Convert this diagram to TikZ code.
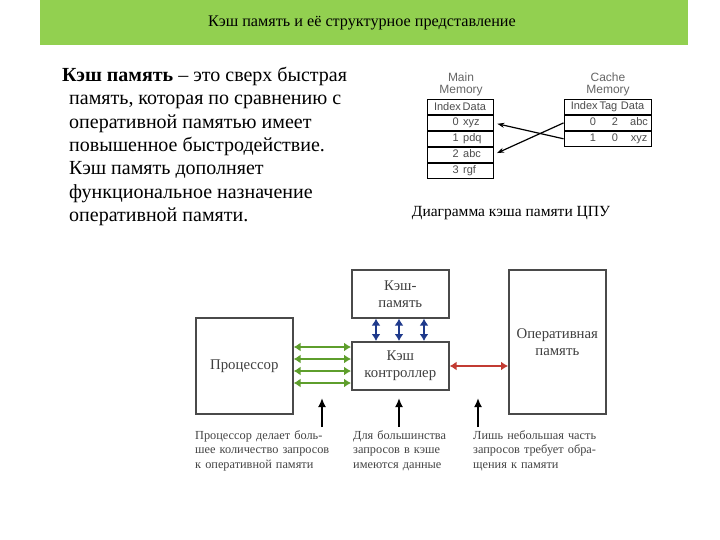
\documentclass[tikz,border=0pt]{standalone}
\usepackage{fontspec}
\setmainfont{Liberation Serif}
\newfontfamily\tabfont{Liberation Sans}
\usetikzlibrary{arrows.meta}
\definecolor{hdrgreen}{HTML}{92D050}
\definecolor{arrgreen}{HTML}{5E9E2C}
\definecolor{arrblue}{HTML}{1F3A8C}
\definecolor{arrred}{HTML}{C23B32}
\definecolor{boxline}{HTML}{4A4A4A}
\definecolor{captxt}{HTML}{444444}
\newcommand\jline[1]{\makebox[\linewidth][s]{#1}}
\tikzset{
  x=1pt,y=-1pt,
  cell/.style={draw=black,line width=0.9pt,minimum height=15pt,inner sep=0pt,font=\tabfont\fontsize{11}{12}\selectfont,text=black!70},
  tabtitle/.style={font=\tabfont\fontsize{12}{12}\selectfont,text=black!60,align=center,inner sep=0pt},
  celltxt/.style={font=\tabfont\fontsize{11}{12}\selectfont,text=black!70,inner sep=0pt,text height=8pt,text depth=2pt},
  blk/.style={draw=boxline,line width=1.6pt,inner sep=0pt,font=\fontsize{14.8}{17}\selectfont,align=center,text=black!75},
  dbl/.style={{Latex[length=7pt,width=9pt]}-{Latex[length=7pt,width=9pt]},line width=2.2pt},
  uparr/.style={-{Latex[length=9pt,width=8pt]},line width=2pt,black},
  note/.style={font=\fontsize{12.3}{14.6}\selectfont,text=captxt,align=left,anchor=north west,inner sep=0pt},
}
\begin{document}
\begin{tikzpicture}
\useasboundingbox (0,0) rectangle (720,540);
\fill[white] (0,0) rectangle (720,540);
% header
\fill[hdrgreen] (40,0) rectangle (688,45);
\node[font=\fontsize{16.2}{18}\selectfont] (title) at (362,23) {Кэш память и её структурное представление};
% paragraph
\node[anchor=north west,inner sep=0pt,align=left,font=\fontsize{20}{23.3}\selectfont] (para) at (62,67)
 {\textbf{Кэш память} – это сверх быстрая\\
 \hspace*{7pt}память, которая по сравнению с\\
 \hspace*{7pt}оперативной памятью имеет\\
 \hspace*{7pt}повышенное быстродействие.\\
 \hspace*{7pt}Кэш память дополняет\\
 \hspace*{7pt}функциональное назначение\\
 \hspace*{7pt}оперативной памяти.};
% main memory table
\node[tabtitle] (mmt) at (461,84) {Main\\Memory};
\node[cell,minimum width=66pt] (mh) at (460,107) {Index\,Data};
\node[cell,minimum width=66pt,anchor=north] (m0) at (mh.south) {};
\node[cell,minimum width=66pt,anchor=north] (m1) at (m0.south) {};
\node[cell,minimum width=66pt,anchor=north] (m2) at (m1.south) {};
\node[cell,minimum width=66pt,anchor=north] (m3) at (m2.south) {};
\node[celltxt,anchor=east] (m0i) at ([xshift=-1pt]m0.center) {0};
\node[celltxt,anchor=west] (m0d) at ([xshift=3pt]m0.center) {xyz};
\node[celltxt,anchor=east] (m1i) at ([xshift=-1pt]m1.center) {1};
\node[celltxt,anchor=west] (m1d) at ([xshift=3pt]m1.center) {pdq};
\node[celltxt,anchor=east] (m2i) at ([xshift=-1pt]m2.center) {2};
\node[celltxt,anchor=west] (m2d) at ([xshift=3pt]m2.center) {abc};
\node[celltxt,anchor=east] (m3i) at ([xshift=-1pt]m3.center) {3};
\node[celltxt,anchor=west] (m3d) at ([xshift=3pt]m3.center) {rgf};
% cache memory table
\node[tabtitle] (cmt) at (608,84) {Cache\\Memory};
\node[cell,minimum width=87pt] (ch) at (607.5,107) {Index\,Tag\,\,Data};
\node[cell,minimum width=87pt,anchor=north] (c0) at (ch.south) {};
\node[cell,minimum width=87pt,anchor=north] (c1) at (c0.south) {};
\node[celltxt] (c0i) at (c0.center -| 593,0) {0};
\node[celltxt] (c0t) at (c0.center -| 615,0) {2};
\node[celltxt] (c0d) at (c0.center -| 639,0) {abc};
\node[celltxt] (c1i) at (c1.center -| 593,0) {1};
\node[celltxt] (c1t) at (c1.center -| 615,0) {0};
\node[celltxt] (c1d) at (c1.center -| 639,0) {xyz};
\draw[-{Stealth[length=7pt,width=5pt]},line width=1.2pt,shorten >=4pt] (c0.west) -- (m2.east);
\draw[-{Stealth[length=7pt,width=5pt]},line width=1.2pt,shorten >=4pt] (c1.west) -- (m0.east);
\node[font=\fontsize{15.5}{17}\selectfont] (cap) at (511,213) {Диаграмма кэша памяти ЦПУ};
% bottom diagram
\node[blk,minimum width=97pt,minimum height=48pt,anchor=north west] (cm) at (351,269) {Кэш-\\память};
\node[blk,minimum width=97pt,minimum height=48pt,anchor=north west] (cc) at (351,341) {Кэш\\контроллер};
\node[blk,minimum width=97pt,minimum height=96pt,anchor=north west] (cpu) at (195,317) {Процессор};
\node[blk,minimum width=97pt,minimum height=144pt,anchor=north west] (ram) at (508,269) {Оперативная\\память};
\foreach \xx in {376,399,424}{
  \draw[dbl,arrblue] (cm.south -| \xx,0) -- (cc.north -| \xx,0);
}
\foreach \yy in {347,359,371,383}{
  \draw[dbl,arrgreen] (cpu.east |- 0,\yy) -- (cc.west |- 0,\yy);
}
\draw[dbl,arrred] (cc.east |- 0,366) -- (ram.west |- 0,366);
% notes
\node[note,text width=132pt] (n1) at (195,430) {\jline{Процессор делает боль-}\\\jline{шее количество запросов}\\к оперативной памяти};
\node[note,text width=94pt] (n2) at (353,430) {\jline{Для большинства}\\\jline{запросов в кэше}\\имеются данные};
\node[note,text width=121pt] (n3) at (473,430) {\jline{Лишь небольшая часть}\\\jline{запросов требует обра-}\\щения к памяти};
\coordinate (t1) at (322,398);
\coordinate (t2) at (399,398);
\coordinate (t3) at (478,398);
\draw[uparr] ([yshift=3pt]n1.north -| t1) -- (t1);
\draw[uparr] ([yshift=3pt]n2.north -| t2) -- (t2);
\draw[uparr] ([yshift=3pt]n3.north -| t3) -- (t3);
\end{tikzpicture}
\end{document}
